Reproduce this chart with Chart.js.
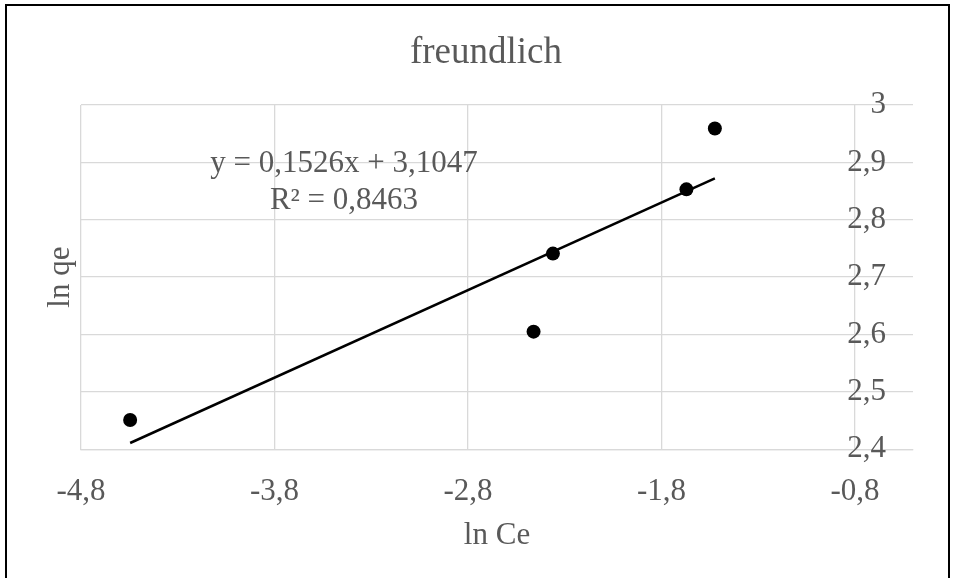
<!DOCTYPE html>
<html>
<head>
<meta charset="utf-8">
<title>freundlich</title>
<script src="https://cdn.jsdelivr.net/npm/chart.js@4/dist/chart.umd.min.js"></script>
<style>
  html, body { margin: 0; padding: 0; background: #ffffff; }
  canvas { display: block; }
</style>
</head>
<body>
<canvas id="chart" width="957" height="578"></canvas>
<script>
// Measured points: ln Ce (x) against ln qe (y)
const lnCe = [-4.546, -2.461, -2.361, -1.671, -1.524];
const lnQe = [2.451, 2.605, 2.741, 2.853, 2.959];

// Linear trendline coefficients and fit quality
const fitSlope = 0.1526;
const fitIntercept = 3.1047;
const fitR2 = 0.8463;

// Axis ticks
const xTicks = [-4.8, -3.8, -2.8, -1.8, -0.8];
const yTicks = [2.4, 2.5, 2.6, 2.7, 2.8, 2.9, 3.0];

const TEXT = '#595959';
const GRID = '#d9d9d9';
const SERIF = '"Liberation Serif", "Times New Roman", serif';

// decimal comma formatting
const fmt = v => String(Math.round(v * 10000) / 10000).replace('.', ',');

const xMin = Math.min(...lnCe);
const xMax = Math.max(...lnCe);
const trend = [xMin, xMax].map(x => ({ x: x, y: fitSlope * x + fitIntercept }));
const points = lnCe.map((x, i) => ({ x: x, y: lnQe[i] }));

const equationLabel = {
  id: 'equationLabel',
  afterDatasetsDraw(chart) {
    const ctx = chart.ctx;
    ctx.save();
    ctx.font = '31px ' + SERIF;
    ctx.fillStyle = TEXT;
    ctx.textAlign = 'center';
    ctx.textBaseline = 'middle';
    ctx.fillText('y = ' + fmt(fitSlope) + 'x + ' + fmt(fitIntercept), 344, 163.5);
    ctx.fillText('R\u00B2 = ' + fmt(fitR2), 344, 200.5);
    ctx.restore();
  }
};

const pageFrame = {
  id: 'pageFrame',
  afterDraw(chart) {
    const ctx = chart.ctx;
    ctx.save();
    ctx.strokeStyle = '#000000';
    ctx.lineWidth = 2;
    ctx.strokeRect(6, 5, 943, 600);
    ctx.restore();
  }
};

Chart.defaults.font.family = SERIF;
Chart.defaults.color = TEXT;

new Chart(document.getElementById('chart'), {
  type: 'scatter',
  data: {
    datasets: [
      {
        label: 'Linear',
        data: trend,
        showLine: true,
        borderColor: '#000000',
        borderWidth: 2.5,
        pointRadius: 0,
        pointHoverRadius: 0,
        fill: false,
        order: 0
      },
      {
        label: 'ln qe',
        data: points,
        pointRadius: 7,
        pointHoverRadius: 7,
        pointBackgroundColor: '#000000',
        pointBorderWidth: 0,
        showLine: false,
        order: 1
      }
    ]
  },
  options: {
    responsive: false,
    animation: false,
    devicePixelRatio: 1,
    layout: { padding: { left: 59, right: 44, top: 0, bottom: 0 } },
    plugins: {
      legend: { display: false },
      tooltip: { enabled: false },
      title: {
        display: true,
        text: 'freundlich',
        color: TEXT,
        font: { size: 37, weight: 'normal', family: SERIF },
        padding: { top: 31, bottom: 29.6 }
      }
    },
    scales: {
      x: {
        type: 'linear',
        position: 'bottom',
        min: -4.8,
        max: -0.5,
        afterBuildTicks: scale => { scale.ticks = xTicks.map(v => ({ value: v })); },
        ticks: {
          color: TEXT,
          font: { size: 31, family: SERIF },
          padding: 24,
          maxRotation: 0,
          autoSkip: false,
          callback: v => fmt(v)
        },
        grid: { color: GRID, lineWidth: 1.3, drawTicks: false },
        border: { display: true, color: GRID, width: 1.3 },
        title: {
          display: true,
          text: 'ln Ce',
          color: TEXT,
          font: { size: 31, family: SERIF, lineHeight: '3px' },
          padding: { top: 0, bottom: 40.5 }
        }
      },
      y: {
        type: 'linear',
        position: { x: -0.64 },
        min: 2.4,
        max: 3.0,
        afterBuildTicks: scale => { scale.ticks = yTicks.map(v => ({ value: v })); },
        ticks: {
          color: TEXT,
          font: { size: 31, family: SERIF },
          autoSkip: false,
          callback: v => fmt(v)
        },
        grid: { color: GRID, lineWidth: 1.3, drawTicks: false },
        border: { display: false }
      },
      yTitle: {
        type: 'linear',
        position: 'left',
        min: 2.4,
        max: 3.0,
        ticks: { display: false },
        grid: { display: false, drawTicks: false },
        border: { display: false },
        title: {
          display: true,
          text: 'ln qe',
          color: TEXT,
          font: { size: 31, family: SERIF, lineHeight: '4px' },
          padding: { top: 0, bottom: 18 }
        }
      }
    }
  },
  plugins: [equationLabel, pageFrame]
});
</script>
</body>
</html>
